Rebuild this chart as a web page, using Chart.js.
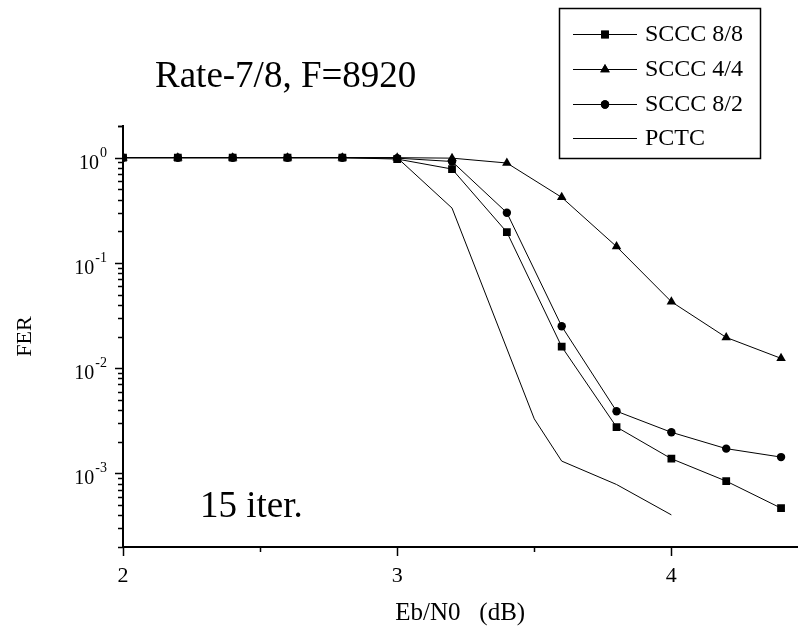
<!DOCTYPE html>
<html><head><meta charset="utf-8">
<script src="https://cdn.jsdelivr.net/npm/chart.js@4/dist/chart.umd.min.js"></script>
<style>html,body{margin:0;padding:0;background:#fff}#wrap{width:803px;height:628px;position:relative}</style>
</head><body><div id="wrap"><canvas id="c" width="803" height="628"></canvas></div>
<script>
// ---- data ----
const xValues = [2.0, 2.2, 2.4, 2.6, 2.8, 3.0, 3.2, 3.4, 3.6, 3.8, 4.0, 4.2, 4.4];
const sccc88 = [1, 1, 1, 1, 1, 0.97, 0.78, 0.196, 0.016, 0.00276, 0.00138, 0.000845, 0.000468];
const sccc44 = [1, 1, 1, 1, 1, 1, 0.99, 0.89, 0.42, 0.143, 0.0428, 0.0196, 0.0124];
const sccc82 = [1, 1, 1, 1, 1, 0.99, 0.92, 0.30, 0.025, 0.0039, 0.00246, 0.00172, 0.00143];
const pctcX = [2.0, 2.2, 2.4, 2.6, 2.8, 3.0, 3.2, 3.5, 3.6, 3.8, 4.0];
const pctc = [1, 1, 1, 1, 1, 1, 0.332, 0.0033, 0.00131, 0.000785, 0.000404];
const seriesLabels = ['SCCC 8/8', 'SCCC 4/4', 'SCCC 8/2', 'PCTC'];
const xTickLabels = ['2', '3', '4'];
const yTickValues = [1, 0.1, 0.01, 0.001];
const yTickBase = '10';
const yTickExponents = ['0', '-1', '-2', '-3'];
const chartTitle = 'Rate-7/8, F=8920';
const noteText = '15 iter.';
const xTitle = 'Eb/N0   (dB)';
const yTitle = 'FER';

const SERIF = '"Liberation Serif", "Times New Roman", serif';
const pts = (xs, ys) => xs.map((x, i) => ({x: x, y: ys[i]}));

const styles = [
  {pointStyle: 'rect', pointRadius: 5.5},
  {pointStyle: 'triangle', pointRadius: 5.5},
  {pointStyle: 'circle', pointRadius: 4.2},
  {pointStyle: false, pointRadius: 0}
];
const seriesData = [pts(xValues, sccc88), pts(xValues, sccc44), pts(xValues, sccc82), pts(pctcX, pctc)];

const datasets = seriesData.map((d, i) => ({
  label: seriesLabels[i],
  data: d,
  borderColor: '#000',
  backgroundColor: '#000',
  borderWidth: 1,
  pointStyle: styles[i].pointStyle,
  pointRadius: styles[i].pointRadius,
  pointBorderWidth: 0,
  pointHoverRadius: styles[i].pointRadius,
  tension: 0,
  fill: false
}));

const decorPlugin = {
  id: 'decor',
  afterDraw(chart) {
    const ctx = chart.ctx;
    const xs = chart.scales.x, ys = chart.scales.y;
    const ca = chart.chartArea;
    ctx.save();
    ctx.strokeStyle = '#000';
    ctx.lineWidth = 1.5;
    // y tick marks
    ys.ticks.forEach(t => {
      const p = ys.getPixelForValue(t.value);
      if (p < ca.top - 0.5 || p > ca.bottom + 0.5) return;
      const major = yTickValues.some(v => Math.abs(v - t.value) / v < 1e-6);
      const len = major ? 8 : 5;
      ctx.beginPath();
      ctx.moveTo(ca.left - len, Math.round(p) + 0.5);
      ctx.lineTo(ca.left, Math.round(p) + 0.5);
      ctx.stroke();
    });
    // y tick labels: 10 with superscript exponent
    ctx.fillStyle = '#000';
    ctx.textBaseline = 'alphabetic';
    yTickValues.forEach((v, i) => {
      const p = ys.getPixelForValue(v);
      const right = ca.left - 16;
      ctx.font = '14px ' + SERIF;
      const ew = ctx.measureText(yTickExponents[i]).width;
      ctx.textAlign = 'left';
      ctx.fillText(yTickExponents[i], right - ew, p - 1);
      ctx.font = '20px ' + SERIF;
      ctx.textAlign = 'right';
      ctx.fillText(yTickBase, right - ew - 1, p + 11);
    });
    // x tick marks
    xs.ticks.forEach(t => {
      const v = t.value;
      if (Math.abs(v * 2 - Math.round(v * 2)) > 1e-6) return;
      const p = xs.getPixelForValue(v);
      const major = Math.abs(v - Math.round(v)) < 1e-6;
      const len = major ? 9 : 5;
      ctx.beginPath();
      ctx.moveTo(Math.round(p) + 0.5, ca.bottom);
      ctx.lineTo(Math.round(p) + 0.5, ca.bottom + len);
      ctx.stroke();
    });
    // title and note
    ctx.fillStyle = '#000';
    ctx.textAlign = 'left';
    ctx.textBaseline = 'alphabetic';
    ctx.font = '37px ' + SERIF;
    ctx.fillText(chartTitle, 155, 87);
    ctx.font = '37px ' + SERIF;
    ctx.fillText(noteText, 200, 517);
    // legend
    const bx = 559, by = 8, bw = 201, bh = 150;
    ctx.lineWidth = 1.5;
    ctx.strokeRect(bx + 0.5, by + 0.5, bw, bh);
    const rows = [34, 69, 104, 138];
    ctx.font = '24px ' + SERIF;
    ctx.textBaseline = 'middle';
    chart.data.datasets.forEach((ds, i) => {
      const y = rows[i];
      ctx.lineWidth = 1;
      ctx.strokeStyle = '#000';
      ctx.beginPath();
      ctx.moveTo(573, y + 0.5);
      ctx.lineTo(637, y + 0.5);
      ctx.stroke();
      if (ds.pointStyle) {
        ctx.fillStyle = '#000';
        Chart.helpers.drawPoint(ctx, {pointStyle: ds.pointStyle, radius: ds.pointRadius, borderWidth: 0, rotation: 0}, 605, y + 0.5);
        ctx.fill();
      }
      ctx.fillStyle = '#000';
      ctx.fillText(ds.label, 645, y + 1);
    });
    ctx.restore();
  }
};

new Chart(document.getElementById('c'), {
  type: 'line',
  data: {datasets: datasets},
  plugins: [decorPlugin],
  options: {
    responsive: false,
    animation: false,
    devicePixelRatio: 1,
    layout: {padding: {left: 0, top: 126, right: 0, bottom: 0}},
    plugins: {legend: {display: false}, tooltip: {enabled: false}, title: {display: false}},
    elements: {line: {borderWidth: 1}},
    scales: {
      x: {
        type: 'linear',
        min: 2, max: 4.46,
        grid: {display: false, drawTicks: false},
        border: {display: true, color: '#000', width: 2},
        ticks: {
          stepSize: 0.5, autoSkip: false, maxRotation: 0, padding: 16,
          color: '#000', font: {family: SERIF, size: 22},
          callback: v => xTickLabels.includes(String(v)) ? String(v) : ''
        },
        title: {display: true, text: xTitle, color: '#000', font: {family: SERIF, size: 25}, padding: {top: 0, bottom: 0}},
        afterFit: s => { s.height = 81; s.paddingLeft = 0; s.paddingRight = 0; }
      },
      y: {
        type: 'logarithmic',
        min: 2e-4, max: 2,
        grid: {display: false, drawTicks: false},
        border: {display: true, color: '#000', width: 2},
        afterBuildTicks: s => {
          const t = [];
          for (let e = -4; e <= 0; e++) {
            for (let m = 1; m <= 9; m++) {
              const v = m * Math.pow(10, e);
              if (v >= 2e-4 * 0.999 && v <= 2 * 1.001) t.push({value: v});
            }
          }
          t.push({value: 2});
          s.ticks = t;
        },
        ticks: {
          autoSkip: false, padding: 16, color: '#000', font: {family: SERIF, size: 21},
          callback: () => ''
        },
        title: {display: true, text: yTitle, color: '#000', font: {family: SERIF, size: 22}, padding: {top: 12, bottom: 0}},
        afterFit: s => { s.width = 123; s.paddingTop = 0; s.paddingBottom = 0; }
      }
    }
  }
});
</script>
</body></html>
